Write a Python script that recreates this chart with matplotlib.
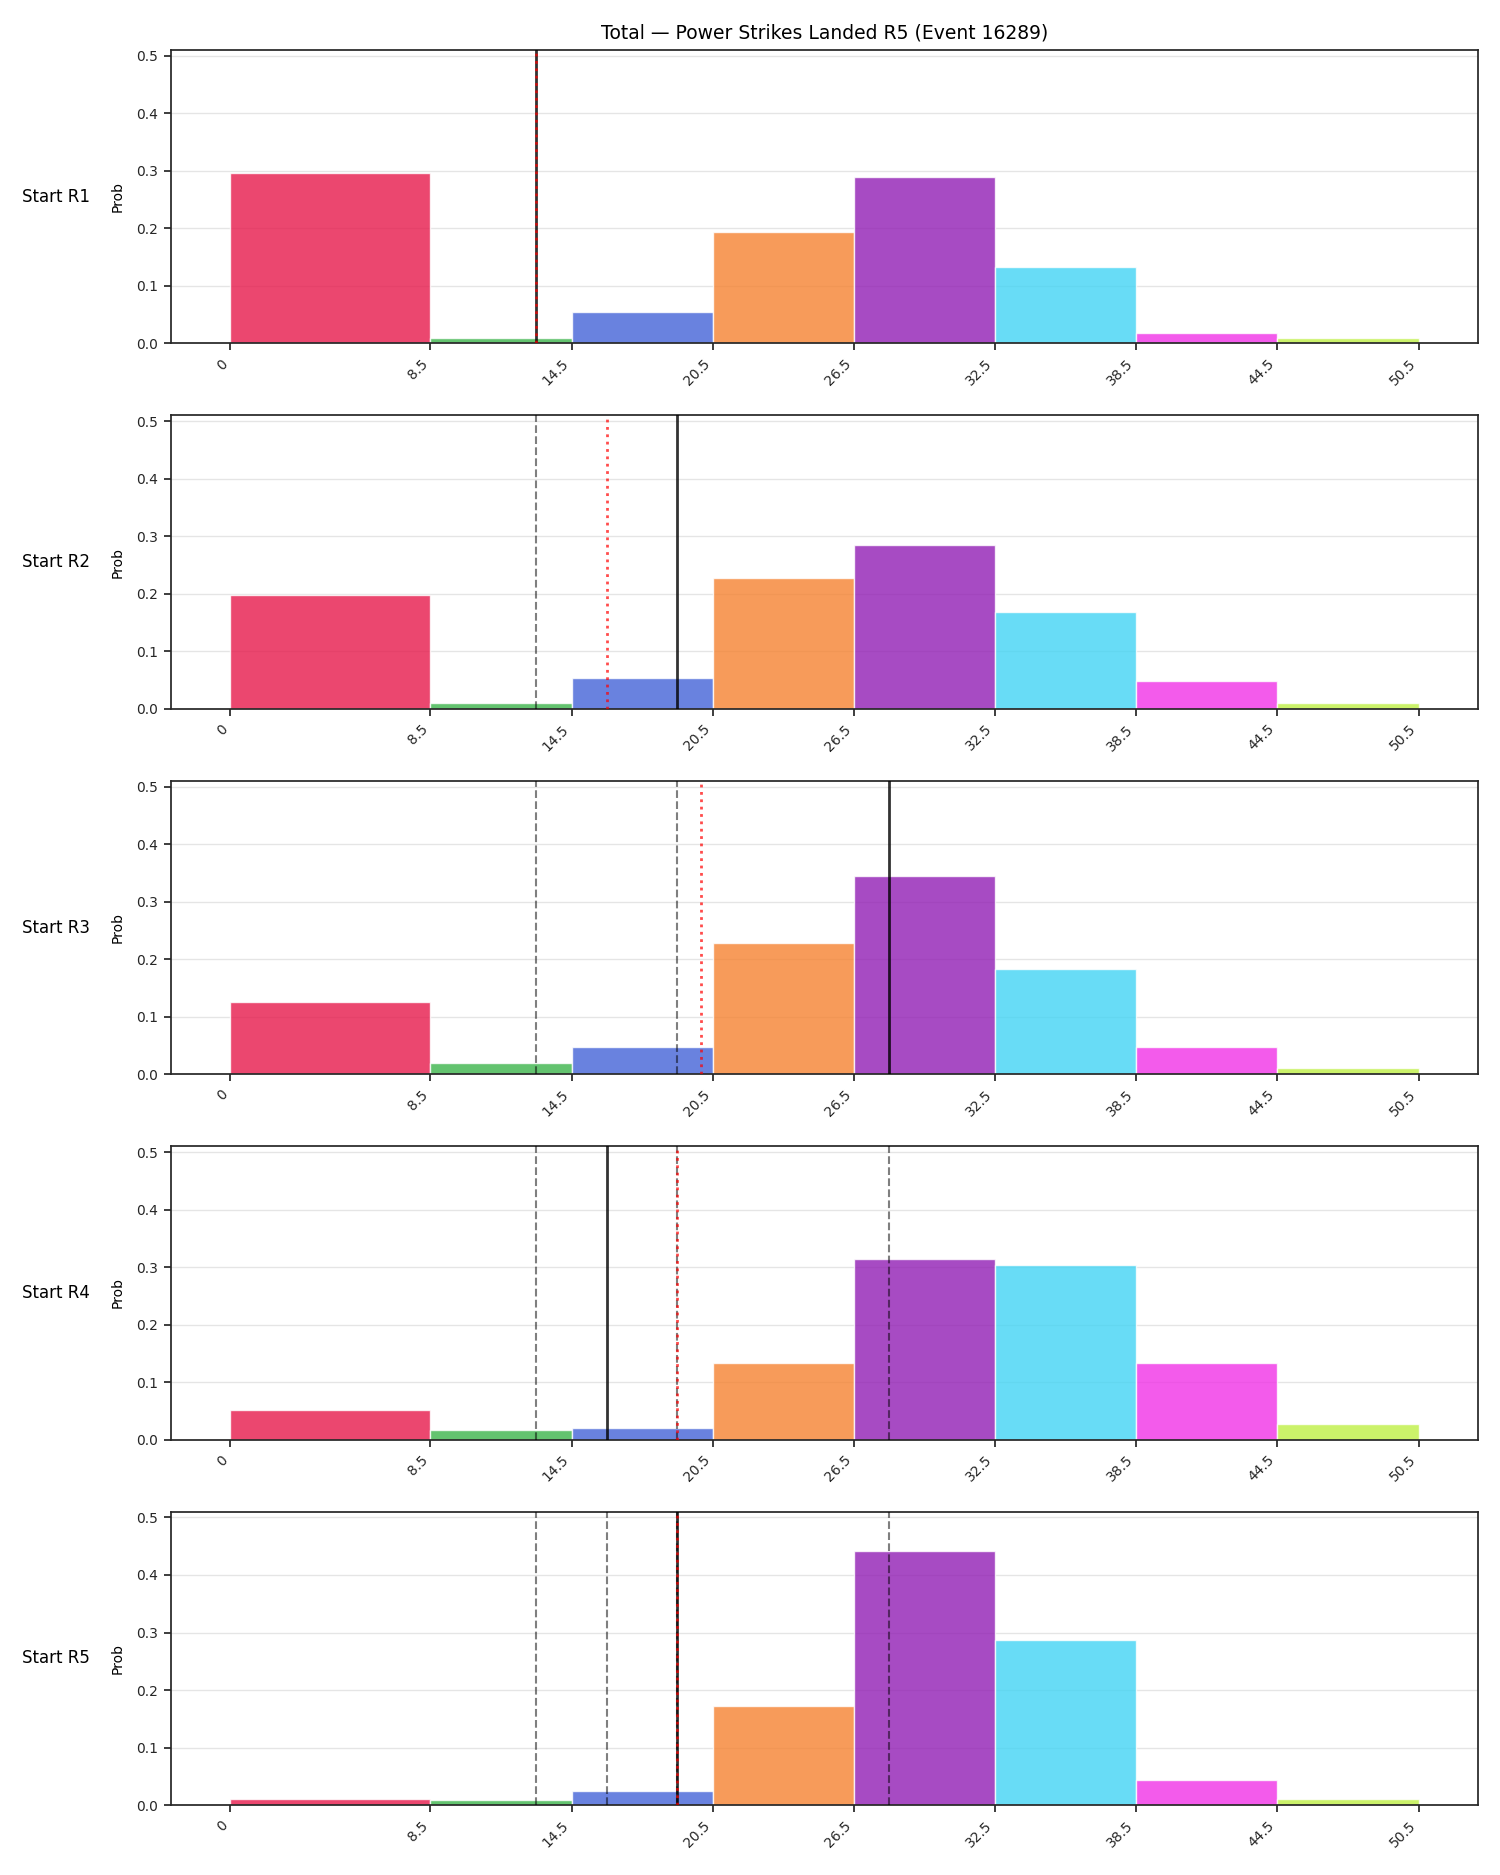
import matplotlib
matplotlib.use("Agg")
import matplotlib.pyplot as plt
import numpy as np

# ---------------- data ----------------
title = "Total — Power Strikes Landed R5 (Event 16289)"
bin_edges = [0, 8.5, 14.5, 20.5, 26.5, 32.5, 38.5, 44.5, 50.5]
tick_labels = ["0", "8.5", "14.5", "20.5", "26.5", "32.5", "38.5", "44.5", "50.5"]
bar_colors = ["#e6194b", "#3cb44b", "#4363d8", "#f58231",
              "#911eb4", "#42d4f4", "#f032e6", "#bfef45"]
row_labels = ["Start R1", "Start R2", "Start R3", "Start R4", "Start R5"]

probs_r1 = [0.297, 0.010, 0.054, 0.194, 0.289, 0.133, 0.018, 0.010]
probs_r2 = [0.198, 0.010, 0.054, 0.227, 0.285, 0.168, 0.049, 0.010]
probs_r3 = [0.125, 0.020, 0.047, 0.228, 0.345, 0.183, 0.047, 0.010]
probs_r4 = [0.051, 0.016, 0.021, 0.134, 0.314, 0.303, 0.133, 0.027]
probs_r5 = [0.010, 0.008, 0.025, 0.172, 0.442, 0.287, 0.044, 0.010]
all_probs = [probs_r1, probs_r2, probs_r3, probs_r4, probs_r5]

solid_values = [13, 19, 28, 16, 19]    # black solid line per row
dotted_values = [13, 16, 20, 19, 19]   # red dotted line per row

# ---------------- style ----------------
plt.rcParams["font.family"] = ["DejaVu Sans"]
plt.rcParams["axes.edgecolor"] = "#262626"
plt.rcParams["axes.linewidth"] = 1.25
plt.rcParams["xtick.color"] = "#262626"
plt.rcParams["ytick.color"] = "#262626"
plt.rcParams["xtick.major.width"] = 1.25
plt.rcParams["ytick.major.width"] = 1.25
plt.rcParams["xtick.major.size"] = 5
plt.rcParams["ytick.major.size"] = 5

fig, axes = plt.subplots(5, 1, figsize=(15, 18.75), dpi=100)
fig.subplots_adjust(left=0.114, right=0.9853, top=0.9733, bottom=0.0373, hspace=0.2457)

edges = np.array(bin_edges)
widths = np.diff(edges)

for i, ax in enumerate(axes):
    ax.bar(edges[:-1], all_probs[i], width=widths, align="edge",
           color=bar_colors, alpha=0.8, edgecolor="white", linewidth=1, zorder=2)
    for v in solid_values[:i]:
        ax.axvline(v, color="black", linestyle="--", linewidth=1.5, alpha=0.5, zorder=3)
    ax.axvline(solid_values[i], color="black", linestyle="-", linewidth=2, alpha=0.8, zorder=4)
    ax.axvline(dotted_values[i], color="red", linestyle=":", linewidth=2, alpha=0.7, zorder=5)

    ax.set_ylim(0, 0.51)
    ax.set_yticks([0.0, 0.1, 0.2, 0.3, 0.4, 0.5])
    ax.set_xticks(bin_edges)
    ax.set_xticklabels(tick_labels, rotation=45, ha="right")
    ax.tick_params(axis="both", labelsize=10, pad=4.5)
    ax.grid(axis="y", color="#cccccc", alpha=0.5, linewidth=1, zorder=0)
    ax.set_axisbelow(True)
    ax.set_ylabel("Prob", fontsize=10, labelpad=8)
    ax.text(-0.062, 0.5, row_labels[i], transform=ax.transAxes,
            ha="right", va="center", fontsize=12)

axes[0].set_title(title, fontsize=13.5, pad=8)

fig.savefig("out.png", dpi=100)
